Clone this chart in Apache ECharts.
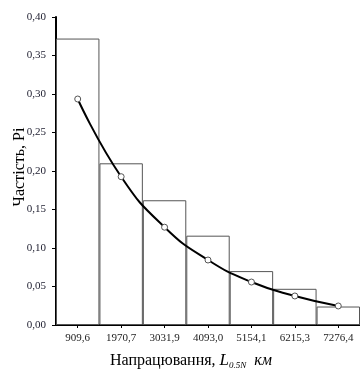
<!DOCTYPE html>
<html><head><meta charset="utf-8">
<script src="https://cdn.jsdelivr.net/npm/echarts@6/dist/echarts.min.js"></script>
<style>html,body{margin:0;padding:0;background:#fff;}#c{width:360px;height:374px;}</style>
</head><body><div id="c"></div>
<script>
var categories = ['909,6','1970,7','3031,9','4093,0','5154,1','6215,3','7276,4'];
var barValues = [0.372, 0.210, 0.162, 0.116, 0.070, 0.047, 0.024];
var curveValues = [0.2935, 0.1926, 0.127, 0.0844, 0.0558, 0.0377, 0.0247];
var yTicks = {min: 0, max: 0.4, interval: 0.05};

var chart = echarts.init(document.getElementById('c'));
var serif = '"Liberation Serif", "DejaVu Serif", serif';
chart.setOption({
  animation: false,
  grid: {left: 56, top: 17, width: 311.5, height: 308},
  xAxis: {
    type: 'category', data: categories, boundaryGap: true,
    axisLine: {lineStyle: {color: '#000', width: 2}},
    axisTick: {show: true, alignWithLabel: true, length: 3, inside: false, lineStyle: {color: '#000', width: 1}},
    axisLabel: {color: '#222', fontFamily: serif, fontSize: 11, margin: 8, interval: 0},
    splitLine: {show: false}
  },
  yAxis: {
    type: 'value', min: yTicks.min, max: yTicks.max, interval: yTicks.interval,
    axisLine: {show: true, lineStyle: {color: '#000', width: 2}},
    axisTick: {show: true, length: 4, lineStyle: {color: '#000', width: 1}},
    axisLabel: {color: '#223', fontFamily: serif, fontSize: 11, margin: 10,
      formatter: function (v) { return v.toFixed(2).replace('.', ','); }},
    splitLine: {show: false}
  },
  graphic: [
    {type: 'text', x: 20, y: 167, rotation: Math.PI / 2,
     style: {text: 'Частість, Рі', font: '16px ' + serif, fill: '#000', align: 'center', verticalAlign: 'middle'}},
    {type: 'text', x: 110, y: 351,
     style: {
       text: '{n|Напрацювання, }{l|L}{s|0.5N}{n|  }{k|км}',
       rich: {
         n: {fontSize: 16, fontFamily: serif, color: '#000'},
         l: {fontStyle: 'italic', fontSize: 17, fontFamily: serif, color: '#000'},
         s: {fontStyle: 'italic', fontSize: 9, fontFamily: serif, color: '#000', padding: [10, 0, 0, 0]},
         k: {fontStyle: 'italic', fontSize: 16, fontFamily: serif, color: '#000'}
       }
     }}
  ],
  series: [
    {type: 'bar', data: barValues, barCategoryGap: 0, barGap: '-100%',
     itemStyle: {color: '#fff', borderColor: '#555', borderWidth: 1}, z: 1},
    {type: 'line', data: curveValues, smooth: true, symbol: 'circle', symbolSize: 6,
     lineStyle: {color: '#000', width: 2},
     itemStyle: {color: '#fff', borderColor: '#555', borderWidth: 1}, z: 3}
  ]
});
</script></body></html>
